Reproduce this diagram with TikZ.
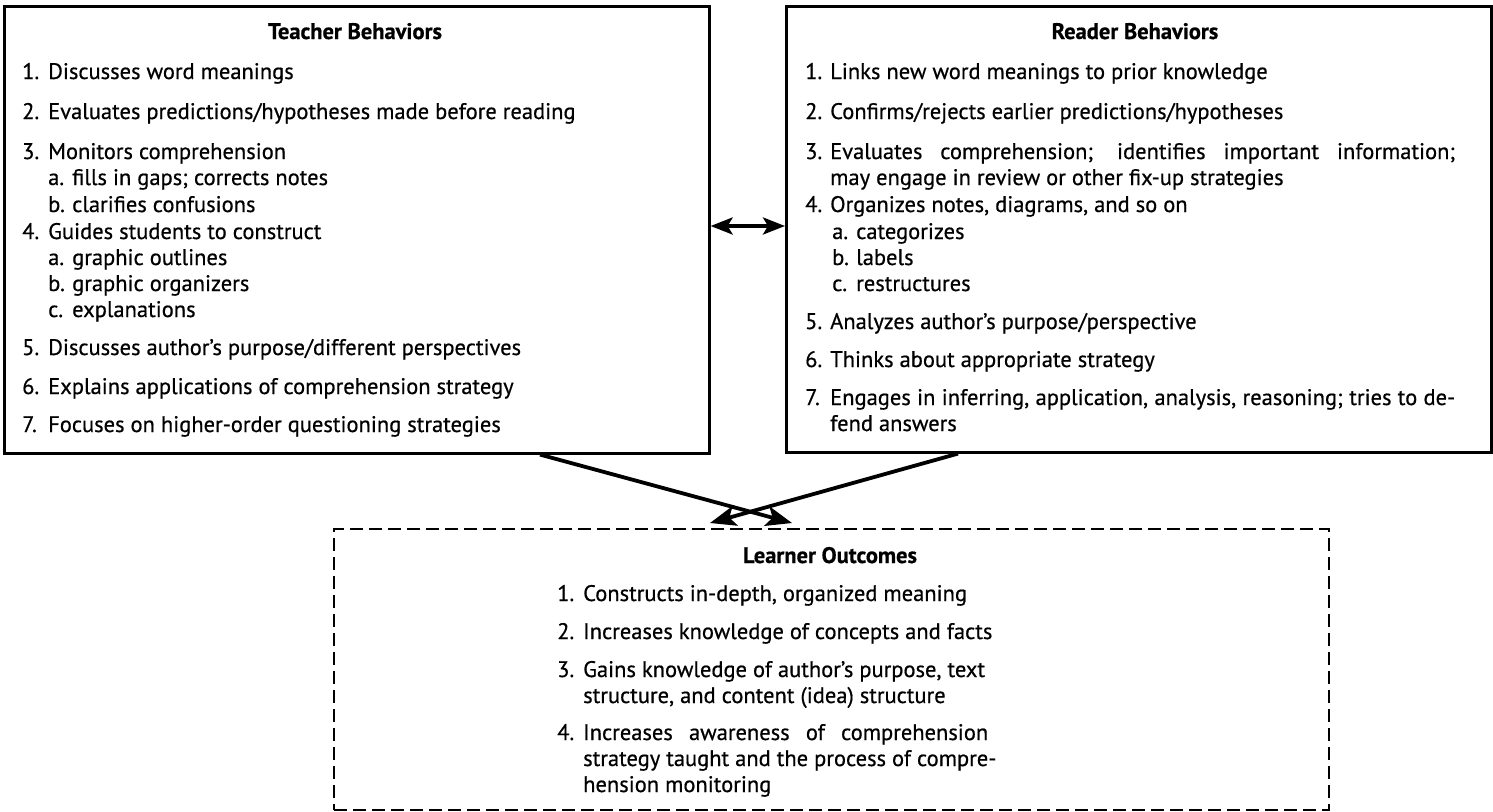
\documentclass[tikz,border=0pt]{standalone}
\usepackage{fontspec}
\setmainfont{PT Sans}[FakeBold=0.6]
\usetikzlibrary{arrows.meta}
\begin{document}
\begin{tikzpicture}[x=1pt,y=-1pt,
  panel/.style={draw, line width=2.6pt, anchor=north west, inner sep=0pt},
  dashpanel/.style={panel, dash pattern=on 13pt off 6pt, line width=2.4pt},
  txt/.style={anchor=base west, inner sep=0pt, font=\fontsize{22.5}{26}\selectfont},
  head/.style={anchor=base, inner sep=0pt, font=\fontsize{22.5}{26}\selectfont\bfseries},
  link/.style={line width=3.8pt, -{Stealth[length=26pt,width=20pt,inset=6pt]}},
  twoway/.style={line width=3.6pt, {Stealth[length=22pt,width=17pt,inset=5pt]}-{Stealth[length=22pt,width=17pt,inset=5pt]}}]

\useasboundingbox (0,0) rectangle (1493,811);

% the three panels
\node[panel, minimum width=705pt, minimum height=447pt] (teacher) at (3,5) {};
\node[panel, minimum width=705pt, minimum height=446pt] (reader) at (785,5) {};
\node[dashpanel, minimum width=995pt, minimum height=281pt] (learner) at (333,528) {};

% Teacher Behaviors
\node[head] (th) at (355,39) {Teacher Behaviors};
\node[txt] (t1n) at (22,79) {1.};  \node[txt] (t1) at (48,79) {Discusses word meanings};
\node[txt] (t2n) at (22,119) {2.}; \node[txt] (t2) at (48,119) {Evaluates predictions/hypotheses made before reading};
\node[txt] (t3n) at (22,159) {3.}; \node[txt] (t3) at (48,159) {Monitors comprehension};
\node[txt] (t3an) at (48,185) {a.}; \node[txt] (t3a) at (72,185) {fills in gaps; corrects notes};
\node[txt] (t3bn) at (48,212) {b.}; \node[txt] (t3b) at (72,212) {clarifies confusions};
\node[txt] (t4n) at (22,239) {4.}; \node[txt] (t4) at (48,239) {Guides students to construct};
\node[txt] (t4an) at (48,265) {a.}; \node[txt] (t4a) at (72,265) {graphic outlines};
\node[txt] (t4bn) at (48,291) {b.}; \node[txt] (t4b) at (72,291) {graphic organizers};
\node[txt] (t4cn) at (48,317) {c.}; \node[txt] (t4c) at (72,317) {explanations};
\node[txt] (t5n) at (22,355) {5.}; \node[txt] (t5) at (48,355) {Discusses author’s purpose/different perspectives};
\node[txt] (t6n) at (22,394) {6.}; \node[txt] (t6) at (48,394) {Explains applications of comprehension strategy};
\node[txt] (t7n) at (22,432) {7.}; \node[txt] (t7) at (48,432) {Focuses on higher-order questioning strategies};

% Reader Behaviors
\node[head] (rh) at (1135,39) {Reader Behaviors};
\node[txt] (r1n) at (805,79) {1.};  \node[txt] (r1) at (830,79) {Links new word meanings to prior knowledge};
\node[txt] (r2n) at (805,119) {2.}; \node[txt] (r2) at (830,119) {Confirms/rejects earlier predictions/hypotheses};
\node[txt] (r3n) at (805,159) {3.}; \node[txt] (r3) at (830,159) {\makebox[625pt][s]{Evaluates comprehension; identifies important information;}};
\node[txt] (r3c) at (830,185) {may engage in review or other fix-up strategies};
\node[txt] (r4n) at (805,212) {4.}; \node[txt] (r4) at (830,212) {Organizes notes, diagrams, and so on};
\node[txt] (r4an) at (832,239) {a.}; \node[txt] (r4a) at (856,239) {categorizes};
\node[txt] (r4bn) at (832,265) {b.}; \node[txt] (r4b) at (856,265) {labels};
\node[txt] (r4cn) at (832,291) {c.}; \node[txt] (r4c) at (856,291) {restructures};
\node[txt] (r5n) at (805,329) {5.}; \node[txt] (r5) at (830,329) {Analyzes author’s purpose/perspective};
\node[txt] (r6n) at (805,367) {6.}; \node[txt] (r6) at (830,367) {Thinks about appropriate strategy};
\node[txt] (r7n) at (805,405) {7.}; \node[txt] (r7) at (830,405) {\makebox[625pt][s]{Engages in inferring, application, analysis, reasoning; tries to de-}};
\node[txt] (r7c) at (830,431) {fend answers};

% Learner Outcomes
\node[head] (lh) at (830,563) {Learner Outcomes};
\node[txt] (l1n) at (557,601) {1.}; \node[txt] (l1) at (583,601) {Constructs in-depth, organized meaning};
\node[txt] (l2n) at (557,639) {2.}; \node[txt] (l2) at (583,639) {Increases knowledge of concepts and facts};
\node[txt] (l3n) at (557,677) {3.}; \node[txt] (l3) at (583,677) {Gains knowledge of author’s purpose, text};
\node[txt] (l3c) at (583,703) {structure, and content (idea) structure};
\node[txt] (l4n) at (557,740) {4.}; \node[txt] (l4) at (583,740) {\makebox[405pt][s]{Increases awareness of comprehension}};
\node[txt] (l4c) at (583,766) {strategy taught and the process of compre-};
\node[txt] (l4d) at (583,792) {hension monitoring};

% connector end points on the panel borders
\coordinate (tr) at (teacher.east |- 0,226);
\coordinate (rl) at (reader.west |- 0,226);
\coordinate (tout) at (teacher.south -| 540,0);
\coordinate (rout) at (reader.south -| 958,0);
\coordinate (lin1) at (792,523);
\coordinate (lin2) at (710,523);

\draw[twoway] (tr) -- (rl);
\draw[link] (tout) -- (lin1);
\draw[link] (rout) -- (lin2);
\end{tikzpicture}
\end{document}
